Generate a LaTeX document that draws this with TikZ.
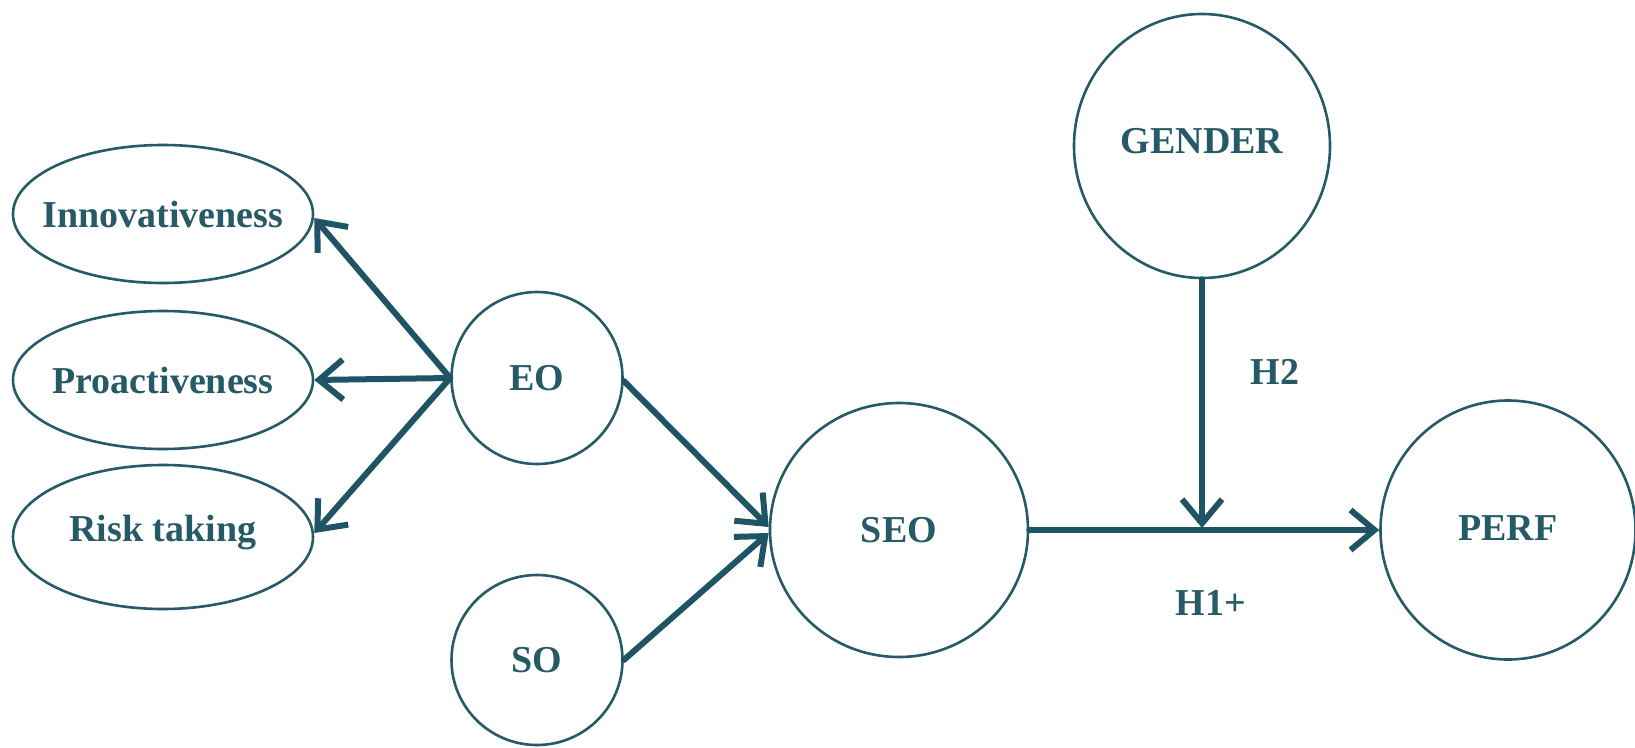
\documentclass[tikz,border=0pt]{standalone}
\usepackage{fontspec}
\setmainfont{Liberation Serif}
\usetikzlibrary{shapes.geometric,arrows.meta}
\definecolor{teal1}{RGB}{30,84,100}
\definecolor{teal2}{RGB}{38,90,102}
\tikzset{
  lat/.style={ellipse,draw=teal2,line width=2.6pt,inner sep=0pt},
  lbl/.style={text=teal2,font=\fontsize{38}{40}\selectfont\bfseries,inner sep=0pt},
  arr/.style={draw=teal1,line width=6pt,line cap=round,
    -{Straight Barb[length=24pt,width=40pt,line width=6pt]}}
}
\begin{document}
\begin{tikzpicture}[x=1pt,y=-1pt]
\useasboundingbox (0,0) rectangle (1635,747);
\fill[white] (0,0) rectangle (1635,747);
% left indicators
\node[lat,minimum width=300pt,minimum height=138pt] (inn) at (163,214) {};
\node[lbl] (innt) at (inn) {Innovativeness};
\node[lat,minimum width=300pt,minimum height=138pt] (pro) at (163,380) {};
\node[lbl] (prot) at (pro) {Proactiveness};
\node[lat,minimum width=300pt,minimum height=144pt] (risk) at (163,537) {};
\node[lbl] (riskt) at ([yshift=4pt]risk) {Risk taking};
% constructs
\node[lat,minimum width=171pt,minimum height=172pt] (eo) at (537,378) {};
\node[lbl] (eot) at (eo) {EO};
\node[lat,minimum width=171pt,minimum height=170pt] (so) at (537,660) {};
\node[lbl] (sot) at (so) {SO};
\node[lat,minimum width=258pt,minimum height=254pt] (seo) at (899,530) {};
\node[lbl] (seot) at (seo) {SEO};
\node[lat,minimum width=256pt,minimum height=264pt] (gen) at (1202,146) {};
\node[lbl] (gent) at ([yshift=5pt]gen) {GENDER};
\node[lat,minimum width=255pt,minimum height=259pt] (perf) at (1508,530) {};
\node[lbl] (perft) at ([yshift=2pt]perf) {PERF};
% labels
\node[lbl] (h2) at (1275,372) {H2};
\node[lbl] (h1) at (1211,603) {H1+};
% connectors
\draw[arr] (eo.west) -- ([yshift=-4pt]inn.east);
\draw[arr] (eo.west) -- (pro.east);
\draw[arr] (eo.west) -- ([yshift=4pt]risk.east);
\draw[arr] ([yshift=-3pt]eo.east) -- ([yshift=3pt]seo.west);
\draw[arr] (so.east) -- ([yshift=-3pt]seo.west);
\draw[arr] (seo.east) -- (perf.west);
\coordinate (j) at (gen.south |- seo.east);
\draw[arr] (gen.south) -- ([yshift=2pt]j);
\end{tikzpicture}
\end{document}
